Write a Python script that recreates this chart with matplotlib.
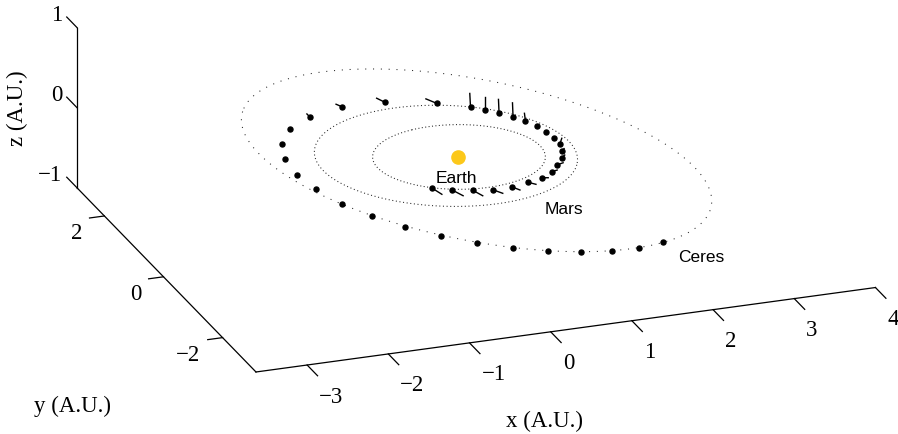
import numpy as np
import matplotlib
matplotlib.use("Agg")
import matplotlib.pyplot as plt

# orbital elements: a (AU), e, i, node, argument of perihelion (deg)
planets = ["Earth", "Mars", "Ceres"]
semi_major = [1.00000, 1.52368, 2.76750]
eccentricity = [0.01671, 0.09340, 0.07850]
inclination = [0.0, 1.850, 10.59]
asc_node = [0.0, 49.56, 80.33]
arg_peri = [102.94, 286.50, 73.60]
orbit_dash = [(0, (1, 2.3)), (0, (1, 2.5)), (0, (1, 6.5))]

# spacecraft positions (AU)
traj_x = [-0.619, -0.420, -0.199, 0.025, 0.262, 0.489, 0.683, 0.858, 0.993, 1.113,
          1.187, 1.233, 1.234, 1.221, 1.176, 1.106, 1.017, 0.907, 0.784, 0.654,
          0.327, -0.224, -0.740, -1.196, -1.538, -1.777, -1.912, -1.947, -1.888, -1.761,
          -1.565, -1.316, -1.024, -0.707, -0.369, -0.021, 0.327, 0.674, 0.998, 1.322]
traj_y = [-0.810, -0.949, -1.039, -1.101, -1.089, -1.027, -0.947, -0.813, -0.632, -0.446,
          -0.253, -0.049, 0.148, 0.370, 0.574, 0.764, 0.938, 1.110, 1.243, 1.380,
          1.631, 1.864, 1.908, 1.746, 1.456, 1.070, 0.606, 0.102, -0.390, -0.920,
          -1.386, -1.829, -2.231, -2.577, -2.875, -3.101, -3.261, -3.354, -3.374, -3.295]
traj_z = np.zeros(len(traj_x))

# thrust direction at each position (AU)
thrust_x = [0.123, 0.135, 0.123, 0.123, 0.102, 0.095, 0.081, 0.065, 0.069, 0.037,
            0.025, 0.025, 0.0, 0.0, 0.0, -0.012, -0.007, -0.007, 0.0, -0.009,
            -0.131, -0.102, -0.070, -0.032, 0.0, 0.0, 0.0, 0.0, 0.0, 0.0,
            0.0, 0.0, 0.0, 0.0, 0.0, 0.0, 0.0, 0.0, 0.0, 0.0]
thrust_y = np.zeros(len(thrust_x))
thrust_z = [-0.096, -0.090, -0.085, -0.062, -0.055, -0.038, -0.011, 0.012, 0.015, 0.029,
            0.027, 0.072, 0.0, 0.0, 0.0, 0.098, 0.174, 0.167, 0.166, 0.174,
            0.073, 0.065, 0.040, 0.038, 0.0, 0.0, 0.0, 0.0, 0.0, 0.0,
            0.0, 0.0, 0.0, 0.0, 0.0, 0.0, 0.0, 0.0, 0.0, 0.0]

# label anchor points (AU)
label_pos = {"Earth": (-0.251, -0.642), "Mars": (0.595, -1.944), "Ceres": (1.576, -3.881)}

xlim = (-3.63, 4.0)
ylim = (-3.13, 2.92)
zlim = (-1.0, 1.0)
xticks = [-3, -2, -1, 0, 1, 2, 3, 4]
yticks = [-2, 0, 2]
zticks = [-1, 0, 1]

az, el = np.radians(-20.0), np.radians(22.0)
PX = 86.4  # pixels per AU on screen


def project(x, y, z):
    x, y, z = np.asarray(x, float), np.asarray(y, float), np.asarray(z, float)
    h = x * np.cos(az) + y * np.sin(az)
    w = (-x * np.sin(az) + y * np.cos(az)) * np.sin(el) + z * np.cos(el)
    return h, w


def orbit(a, e, inc, node, peri, n=500):
    E = np.linspace(0, 2 * np.pi, n)
    p = a * (np.cos(E) - e)
    q = a * np.sqrt(1 - e ** 2) * np.sin(E)
    i, O, w = np.radians(inc), np.radians(node), np.radians(peri)
    x = (np.cos(O) * np.cos(w) - np.sin(O) * np.sin(w) * np.cos(i)) * p + \
        (-np.cos(O) * np.sin(w) - np.sin(O) * np.cos(w) * np.cos(i)) * q
    y = (np.sin(O) * np.cos(w) + np.cos(O) * np.sin(w) * np.cos(i)) * p + \
        (-np.sin(O) * np.sin(w) + np.cos(O) * np.cos(w) * np.cos(i)) * q
    z = np.sin(w) * np.sin(i) * p + np.cos(w) * np.sin(i) * q
    return x, y, z


fig = plt.figure(figsize=(8.98, 4.34), dpi=100)
ax = fig.add_axes([0, 0, 1, 1])
ax.set_xlim(-458.2 / PX, (898 - 458.2) / PX)
ax.set_ylim(-(434 - 156.5) / PX, 156.5 / PX)
ax.axis("off")

serif = "Liberation Serif"
sans = "Liberation Sans"
fs = 16.5

# axis lines
x0, y0, z0 = xlim[0], ylim[0], zlim[0]
h, w = project([xlim[0], xlim[1]], [y0, y0], [z0, z0])
ax.plot(h, w, color="k", lw=0.9)
h, w = project([x0, x0], [ylim[0], ylim[1]], [z0, z0])
ax.plot(h, w, color="k", lw=0.9)
h, w = project([x0, x0], [ylim[1], ylim[1]], [zlim[0], zlim[1]])
ax.plot(h, w, color="k", lw=0.9)

tick_len = 15 / PX


def tick_dir(dx, dy, dz):
    h, w = project(dx, dy, dz)
    n = np.hypot(h, w)
    return tick_len * h / n, tick_len * w / n


dh, dw = tick_dir(0, -1, 0)
for t in xticks:
    h, w = project(t, y0, z0)
    ax.plot([h, h + dh], [w, w + dw], color="k", lw=0.9)
    ax.annotate(str(t).replace("-", "\u2212"), (h, w), xytext=(12, -32),
                textcoords="offset pixels", ha="left", va="center",
                family=serif, fontsize=fs)

dh, dw = tick_dir(-1, 0, 0)
for t in yticks:
    h, w = project(x0, t, z0)
    ax.plot([h, h + dh], [w, w + dw], color="k", lw=0.9)
    ax.annotate(str(t).replace("-", "\u2212"), (h, w), xytext=(-22, -18),
                textcoords="offset pixels", ha="right", va="center",
                family=serif, fontsize=fs)

dh, dw = tick_dir(0, 1, 0)
for t in zticks:
    h, w = project(x0, ylim[1], t)
    ax.plot([h, h + dh], [w, w + dw], color="k", lw=0.9)
    ax.annotate(str(t).replace("-", "\u2212"), (h, w), xytext=(-15, 12),
                textcoords="offset pixels", ha="right", va="center",
                family=serif, fontsize=fs)

ax.text(545 / 898, 1 - 421.7 / 434, "x (A.U.)", transform=ax.transAxes,
        ha="center", va="center", family=serif, fontsize=fs)
ax.text(72 / 898, 1 - 406 / 434, "y (A.U.)", transform=ax.transAxes,
        ha="center", va="center", family=serif, fontsize=fs)
ax.text(17 / 898, 1 - 108 / 434, "z (A.U.)", transform=ax.transAxes,
        ha="center", va="center", rotation=90, family=serif, fontsize=fs)

# orbits
for k, name in enumerate(planets):
    ox, oy, oz = orbit(semi_major[k], eccentricity[k], inclination[k],
                       asc_node[k], arg_peri[k])
    h, w = project(ox, oy, oz)
    ax.plot(h, w, color="0.15", lw=0.75, linestyle=orbit_dash[k])
    lh, lw_ = project(label_pos[name][0], label_pos[name][1], 0)
    ax.text(lh, lw_, name, ha="center", va="center", family=sans, fontsize=12.5)

# sun
h, w = project(0, 0, 0)
ax.plot(h, w, "o", color="#fcc81a", ms=9.5, mec="#fcc81a", zorder=5)

# thrust vectors and spacecraft positions
for k in range(len(traj_x)):
    if thrust_x[k] == 0 and thrust_z[k] == 0:
        continue
    h, w = project([traj_x[k], traj_x[k] + thrust_x[k]],
                   [traj_y[k], traj_y[k] + thrust_y[k]],
                   [traj_z[k], traj_z[k] + thrust_z[k]])
    ax.plot(h, w, color="k", lw=1.0)

h, w = project(traj_x, traj_y, traj_z)
ax.plot(h, w, "o", color="k", ms=3.6, ls="none", zorder=4)

fig.savefig("out.png", dpi=100)
